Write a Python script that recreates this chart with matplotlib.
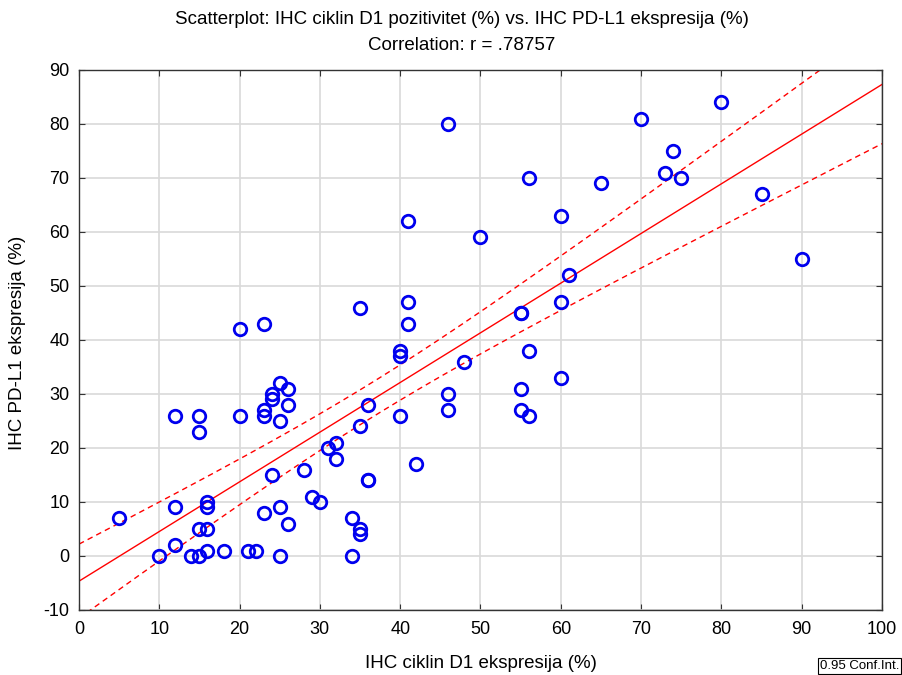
import numpy as np
import matplotlib
matplotlib.use('Agg')
import matplotlib.pyplot as plt

plt.rcParams['font.family'] = ['Liberation Sans', 'DejaVu Sans']
plt.rcParams['axes.unicode_minus'] = False

cyclin_d1 = [5, 10, 12, 12, 12, 14, 15, 15, 15, 15, 16, 16, 16, 16, 18,
             20, 20, 21, 22, 23, 23, 23, 23, 24, 24, 24, 25, 25, 25, 25,
             26, 26, 26, 28, 29, 30, 31, 32, 32, 34, 34, 35, 35, 35, 35,
             36, 36, 36, 40, 40, 40, 41, 41, 41, 42, 46, 46, 46, 48, 50,
             55, 55, 55, 55, 56, 56, 56, 60, 60, 60, 61, 65, 70, 73, 74,
             75, 80, 85, 90]
pd_l1 = [7, 0, 2, 9, 26, 0, 0, 5, 23, 26, 1, 5, 9, 10, 1,
         26, 42, 1, 1, 8, 26, 27, 43, 15, 29, 30, 0, 9, 25, 32,
         6, 28, 31, 16, 11, 10, 20, 18, 21, 0, 7, 4, 5, 24, 46,
         14, 14, 28, 26, 37, 38, 43, 47, 62, 17, 27, 30, 80, 36, 59,
         27, 31, 45, 45, 26, 38, 70, 33, 47, 63, 52, 69, 81, 71, 75,
         70, 84, 67, 55]

title_1 = "Scatterplot: IHC ciklin D1 pozitivitet (%) vs. IHC PD-L1 ekspresija (%)"
title_2 = "Correlation: r = .78757"
x_label = "IHC ciklin D1 ekspresija (%)"
y_label = "IHC PD-L1 ekspresija (%)"

x = np.array(cyclin_d1, dtype=float)
y = np.array(pd_l1, dtype=float)
n = len(x)

# linear fit and 95% confidence band for the mean
slope, intercept = np.polyfit(x, y, 1)
resid = y - (intercept + slope * x)
s = np.sqrt(np.sum(resid ** 2) / (n - 2))
t = 1.99
xs = np.linspace(0, 100, 200)
fit = intercept + slope * xs
se = s * np.sqrt(1.0 / n + (xs - x.mean()) ** 2 / np.sum((x - x.mean()) ** 2))

fig = plt.figure(figsize=(9.02, 6.75), dpi=100)
ax = fig.add_axes([79 / 902, 1 - 610 / 675, (882 - 79) / 902, (610 - 70) / 675])

ax.grid(True, color='#d9d9d9', linewidth=1.2, zorder=0)
ax.set_axisbelow(True)

ax.plot(xs, fit, color='red', linewidth=1.0, zorder=2)
ax.plot(xs, fit + t * se, color='red', linewidth=1.0, linestyle=(0, (4, 3)), zorder=2)
ax.plot(xs, fit - t * se, color='red', linewidth=1.0, linestyle=(0, (4, 3)), zorder=2)

ax.plot(x, y, linestyle='none', marker='o', markersize=9, markerfacecolor='none',
        markeredgecolor='#0000ee', markeredgewidth=2.0, zorder=3)

ax.set_xlim(0, 100)
ax.set_ylim(-10, 90)
ax.set_xticks(np.arange(0, 101, 10))
ax.set_yticks(np.arange(-10, 91, 10))
ax.tick_params(direction='in', top=True, right=True, labelsize=13, length=4, color='#333333')
ax.tick_params(axis='x', pad=8)
ax.tick_params(axis='y', pad=7)
for sp in ax.spines.values():
    sp.set_color('#333333')
    sp.set_linewidth(1.0)

fig.text(481 / 902, 1 - 663 / 675, x_label, ha='center', va='center', fontsize=13.5)
fig.text(18 / 902, 1 - 343 / 675, y_label, ha='center', va='center', rotation=90, fontsize=13.5)
fig.text(462 / 902, 1 - 20 / 675, title_1, ha='center', va='center', fontsize=13.5)
fig.text(462 / 902, 1 - 45 / 675, title_2, ha='center', va='center', fontsize=13.5)

fig.text(0.997, 0.004, "0.95 Conf.Int.", ha='right', va='bottom', fontsize=9.5,
         bbox=dict(facecolor='white', edgecolor='black', linewidth=0.8, pad=1.5))

fig.savefig('out.png', dpi=100)
